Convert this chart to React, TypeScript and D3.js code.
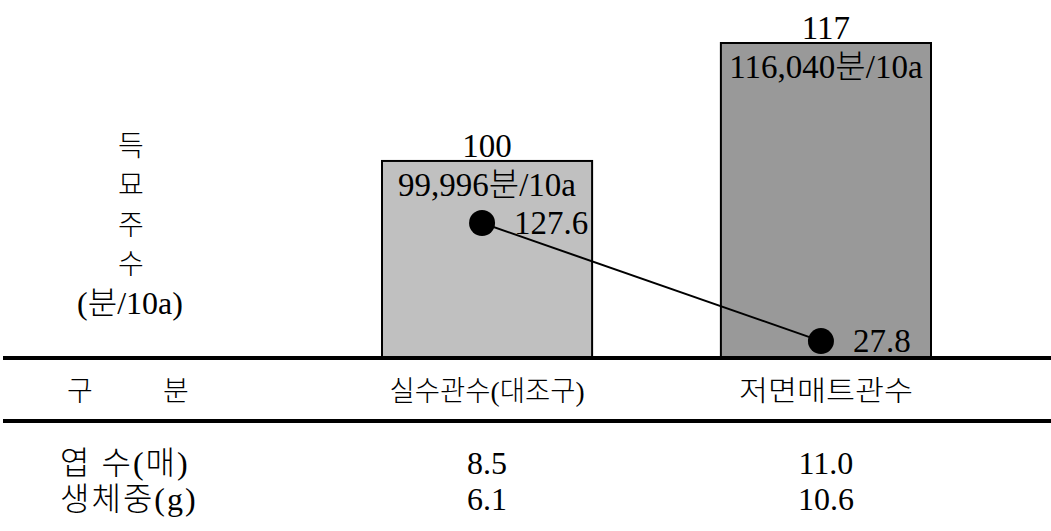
import React from "react";
import * as d3 from "d3";

// 처리구
const categories = ["실수관수(대조구)", "저면매트관수"];
// 득묘주수 지수 (대조구 = 100)
const indexValues = [100, 117];
// 득묘주수 (분/10a)
const seedlingCounts = [99996, 116040];
// 꺾은선 값
const lineValues = [127.6, 27.8];
// 표 아래 행
const rowLabels = ["엽 수(매)", "생체중(g)"];
const leafCounts = ["8.5", "11.0"];
const freshWeights = ["6.1", "10.6"];
const axisTitleChars = ["득", "묘", "주", "수"];

const W = 1051;
const H = 531;
const baseY = 358;
const font = "Liberation Serif, Noto Sans CJK KR, serif";
const fmt = d3.format(",");

const App: React.FC = () => {
  const x = d3.scaleBand<string>().domain(categories).range([382, 931]).paddingInner(0.38).paddingOuter(0);
  const y = d3.scaleLinear().domain([71.6, 117]).range([baseY, 43]);
  const y2 = d3.scaleLinear().domain([0, 127.6]).range([374, 223]);

  const cx = (c: string) => (x(c) ?? 0) + x.bandwidth() / 2;
  const dotX = (c: string) => cx(c) - 5;

  const line = d3
    .line<number>()
    .x((_, i) => dotX(categories[i]))
    .y((d) => y2(d));

  const fills = ["#c0c0c0", "#999999"];

  return (
    <svg
      width={W}
      height={H}
      style={{ position: "absolute", left: 0, top: 0, background: "#fff", fontFamily: font }}
    >
      {/* 세로 축 제목 */}
      {axisTitleChars.map((ch, i) => (
        <text key={ch} x={131} y={146 + i * 39.5} fontSize={28} fontWeight={300} textAnchor="middle" dominantBaseline="central">
          {ch}
        </text>
      ))}
      <text x={130} y={303} fontSize={32} fontWeight={300} textAnchor="middle" dominantBaseline="central">
        (분/10a)
      </text>

      {/* 막대 */}
      {categories.map((c, i) => (
        <g key={c}>
          <rect
            x={x(c)}
            y={y(indexValues[i])}
            width={x.bandwidth()}
            height={baseY - y(indexValues[i])}
            fill={fills[i]}
            stroke="#000"
            strokeWidth={2}
          />
          <text x={cx(c)} y={y(indexValues[i]) - 15} fontSize={33} textAnchor="middle" dominantBaseline="central">
            {indexValues[i]}
          </text>
          <text x={cx(c)} y={y(indexValues[i]) + 24} fontSize={33} fontWeight={300} textAnchor="middle" dominantBaseline="central">
            {fmt(seedlingCounts[i])}분/10a
          </text>
        </g>
      ))}

      {/* 꺾은선 */}
      <path d={line(lineValues) ?? ""} fill="none" stroke="#000" strokeWidth={2} />
      {lineValues.map((v, i) => (
        <g key={i}>
          <circle cx={dotX(categories[i])} cy={y2(v)} r={13} fill="#000" />
          <text x={dotX(categories[i]) + 32} y={y2(v)} fontSize={33} dominantBaseline="central">
            {v}
          </text>
        </g>
      ))}

      {/* 표 */}
      <line x1={3} x2={W} y1={baseY} y2={baseY} stroke="#000" strokeWidth={4} />
      <line x1={3} x2={W} y1={421} y2={421} stroke="#000" strokeWidth={4} />

      <text x={80} y={391} fontSize={28} fontWeight={300} textAnchor="middle" dominantBaseline="central">구</text>
      <text x={176} y={391} fontSize={28} fontWeight={300} textAnchor="middle" dominantBaseline="central">분</text>
      {categories.map((c, i) => (
        <text
          key={c}
          x={cx(c)}
          y={391}
          fontSize={28}
          fontWeight={300}
          textAnchor="middle"
          dominantBaseline="central"
          textLength={i === 0 ? 195 : 174}
          lengthAdjust="spacingAndGlyphs"
        >
          {c}
        </text>
      ))}

      {rowLabels.map((r, i) => (
        <text key={r} x={60} y={463 + i * 36} fontSize={32} fontWeight={300} letterSpacing={2} dominantBaseline="central">
          {r}
        </text>
      ))}
      {categories.map((c, i) => (
        <g key={c}>
          <text x={cx(c)} y={463} fontSize={32} textAnchor="middle" dominantBaseline="central">
            {leafCounts[i]}
          </text>
          <text x={cx(c)} y={499} fontSize={32} textAnchor="middle" dominantBaseline="central">
            {freshWeights[i]}
          </text>
        </g>
      ))}
    </svg>
  );
};

export default App;
